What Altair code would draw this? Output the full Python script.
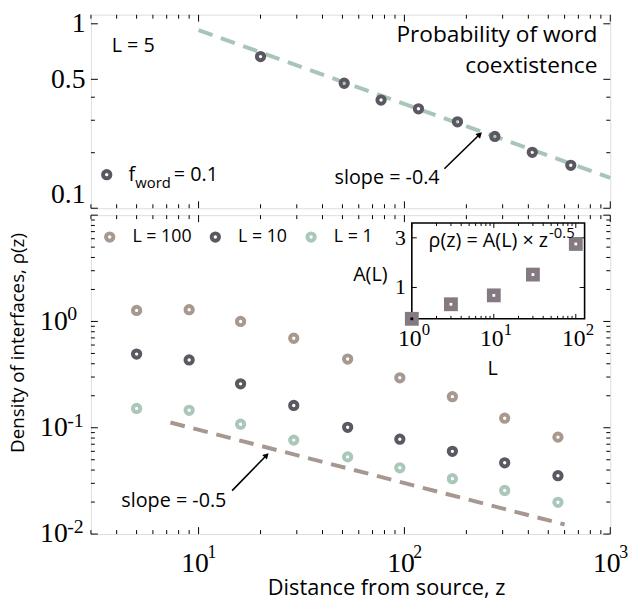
import math
import altair as alt
import pandas as pd

# ---------------- data ----------------
# top panel: probability of word coexistence (L = 5, f_word = 0.1)
top_z = [20, 51, 77, 117, 181, 275, 418, 643]
top_p = [0.664, 0.476, 0.386, 0.346, 0.294, 0.245, 0.201, 0.171]
top_fit_z = [10, 1000]
top_fit_p = [0.925, 0.146]

# bottom panel: density of interfaces
dist = [5, 9, 16, 29, 53, 95, 171, 307, 557]
rho_L100 = [1.27, 1.29, 1.0, 0.695, 0.443, 0.295, 0.196, 0.123, 0.0816]
rho_L10 = [0.493, 0.434, 0.259, 0.162, 0.101, 0.078, 0.060, 0.0468, 0.0354]
rho_L1 = [0.152, 0.146, 0.108, 0.0765, 0.0532, 0.042, 0.0332, 0.0257, 0.0199]
series_names = ["L = 100", "L = 10", "L = 1"]
bottom_fit_z = [7.3, 600]
bottom_fit_rho = [0.112, 0.0123]

# inset: A(L)
inset_L = [1, 3, 10, 30, 100]
inset_A = [0.5, 0.69, 0.84, 1.33, 2.62]

# axes / ticks
x_domain = [3, 1000]
top_y_domain = [0.1, 1.12]
bot_y_domain = [0.01, 10]
inset_x_domain = [1, 128]
inset_y_domain = [0.5, 4.16]

top_y_labels = [0.1, 0.5, 1]
top_y_minor = [0.2, 0.3, 0.4]
x_major = [10, 100, 1000]
x_major_sup = ["1", "2", "3"]
x_minor = [3, 4, 5, 6, 7, 8, 9, 20, 30, 40, 50, 60, 70, 80, 90,
           200, 300, 400, 500, 600, 700, 800, 900]
bot_y_major = [0.01, 0.1, 1, 10]
bot_y_labels = [0.01, 0.1, 1]
bot_y_sup = ["-2", "-1", "0"]
bot_y_minor = [0.02, 0.03, 0.04, 0.05, 0.06, 0.07, 0.08, 0.09,
               0.2, 0.3, 0.4, 0.5, 0.6, 0.7, 0.8, 0.9,
               2, 3, 4, 5, 6, 7, 8, 9]
inset_x_major = [1, 10, 100]
inset_x_sup = ["0", "1", "2"]
inset_x_minor = [2, 3, 4, 5, 6, 7, 8, 9, 20, 30, 40, 50, 60, 70, 80, 90]
inset_y_major = [1, 3]

# ---------------- style ----------------
SERIF = "Liberation Serif"
SANS = "Open Sans"
DARK = "#5b5862"
TAUPE = "#a7998f"
GREEN = "#a9c8b9"
GREEN_LINE = "#a8c6b7"
TAUPE_LINE = "#a69890"
SQUARE = "#857a82"

W, HT, HB = 526, 196, 323
MAJ, MIN = 7, 4


def one():
    return pd.DataFrame({"t": [""]})


def label(text, x, y, size=20, align="left", baseline="middle", font=SANS):
    return alt.Chart(pd.DataFrame({"t": [text]})).mark_text(
        align=align, baseline=baseline, font=font, fontSize=size, color="black"
    ).encode(x=alt.value(x), y=alt.value(y), text="t:N")


def arrow(x1, y1, x2, y2):
    L = math.hypot(x2 - x1, y2 - y1)
    ux, uy = (x2 - x1) / L, (y2 - y1) / L
    cx, cy = x2 - 3 * ux, y2 - 3 * uy
    ang = math.degrees(math.atan2(x2 - x1, -(y2 - y1)))
    line = alt.Chart(one()).mark_rule(color="black", strokeWidth=1.6).encode(
        x=alt.value(x1), y=alt.value(y1), x2=alt.value(cx), y2=alt.value(cy))
    head = alt.Chart(one()).mark_point(
        shape="triangle-up", filled=True, size=45, color="black", opacity=1, angle=ang
    ).encode(x=alt.value(cx), y=alt.value(cy))
    return [line, head]


def yticks(vals, field, scale, axis, length, width, x0=0):
    df = pd.DataFrame({field: vals})
    left = alt.Chart(df).mark_rule(color="black", strokeWidth=1).encode(
        y=alt.Y(f"{field}:Q", scale=scale, axis=axis),
        x=alt.value(x0), x2=alt.value(x0 + length))
    right = alt.Chart(df).mark_rule(color="black", strokeWidth=1).encode(
        y=alt.Y(f"{field}:Q", scale=scale, axis=axis),
        x=alt.value(x0 + width), x2=alt.value(x0 + width - length))
    return [left, right]


def xticks(vals, field, scale, axis, length, height, y0=0):
    df = pd.DataFrame({field: vals})
    bottom = alt.Chart(df).mark_rule(color="black", strokeWidth=1).encode(
        x=alt.X(f"{field}:Q", scale=scale, axis=axis),
        y=alt.value(y0 + height), y2=alt.value(y0 + height - length))
    top = alt.Chart(df).mark_rule(color="black", strokeWidth=1).encode(
        x=alt.X(f"{field}:Q", scale=scale, axis=axis),
        y=alt.value(y0), y2=alt.value(y0 + length))
    return [bottom, top]


# ---------------- top panel ----------------
xs_top = alt.Scale(type="log", domain=x_domain, nice=False)
ys_top = alt.Scale(type="log", domain=top_y_domain, nice=False)
top_y_axis = alt.Axis(values=top_y_labels, format="~g", labelFont=SERIF, labelFontSize=28,
                      labelColor="black", labelPadding=6, ticks=False, tickSize=0,
                      domain=False, grid=False, labelFlush=True, title=None)

top_fit = alt.Chart(pd.DataFrame({"z": top_fit_z, "p": top_fit_p})).mark_line(
    color=GREEN_LINE, strokeWidth=4, strokeDash=[15, 9]
).encode(x=alt.X("z:Q", scale=xs_top, axis=None), y=alt.Y("p:Q", scale=ys_top, axis=top_y_axis))

top_pts = alt.Chart(pd.DataFrame({"z": top_z, "p": top_p})).mark_point(
    filled=False, strokeWidth=4, size=55, color=DARK, opacity=1
).encode(x=alt.X("z:Q", scale=xs_top, axis=None), y=alt.Y("p:Q", scale=ys_top, axis=top_y_axis))

top_layers = [top_fit, top_pts]
top_layers += yticks(top_y_labels, "p", ys_top, top_y_axis, MAJ, W)
top_layers += yticks(top_y_minor, "p", ys_top, top_y_axis, MIN, W)
top_layers += xticks(x_major, "z", xs_top, None, MAJ, HT)
top_layers += xticks(x_minor, "z", xs_top, None, MIN, HT)
top_layers += [
    label("L = 5", 21, 32),
    label("Probability of word", 513, 21, size=23, align="right"),
    label("coextistence", 513, 52, size=23, align="right"),
    label("slope = -0.4", 300, 165, align="center"),
    alt.Chart(one()).mark_point(filled=False, strokeWidth=4, size=55, color=DARK, opacity=1)
    .encode(x=alt.value(16), y=alt.value(162)),
    label("f", 38, 168, baseline="alphabetic"),
    label("word", 45, 175, size=15, baseline="alphabetic"),
    label("= 0.1", 84, 168, baseline="alphabetic"),
]
top_layers += arrow(358, 156, 396, 119)
top = alt.layer(*top_layers).properties(width=W, height=HT)

# ---------------- bottom panel ----------------
xs_bot = alt.Scale(type="log", domain=x_domain, nice=False)
ys_bot = alt.Scale(type="log", domain=bot_y_domain, nice=False)
bot_x_axis = alt.Axis(values=x_major, labelExpr="'10'", labelFont=SERIF, labelFontSize=28,
                      labelColor="black", labelPadding=30, labelBaseline="middle", labelOffset=-4,
                      labelAlign="center", labelFlush=False, ticks=False, tickSize=0,
                      domain=False, grid=False,
                      title="Distance from source, z", titleFont=SANS, titleFontSize=22,
                      titleFontWeight="normal", titleColor="black", titleX=299, titleY=61,
                      titleAlign="center", titleBaseline="alphabetic", titleAnchor="middle")
bot_y_axis = alt.Axis(values=bot_y_labels, labelExpr="'10'", labelFont=SERIF, labelFontSize=28,
                      labelColor="black", labelPadding=24, labelBaseline="middle",
                      labelFlush=False, ticks=False, tickSize=0, domain=False, grid=False,
                      title="Density of interfaces, ρ(z)", titleFont=SANS, titleFontSize=19,
                      titleFontWeight="normal", titleColor="black", titleX=-74, titleY=129,
                      titleAngle=-90, titleAlign="center", titleBaseline="middle")

bot_df = pd.DataFrame({
    "z": dist * 3,
    "rho": rho_L100 + rho_L10 + rho_L1,
    "series": [n for n in series_names for _ in dist],
})
bot_fit = alt.Chart(pd.DataFrame({"z": bottom_fit_z, "rho": bottom_fit_rho})).mark_line(
    color=TAUPE_LINE, strokeWidth=4, strokeDash=[15, 9]
).encode(x=alt.X("z:Q", scale=xs_bot, axis=bot_x_axis), y=alt.Y("rho:Q", scale=ys_bot, axis=bot_y_axis))

bot_pts = alt.Chart(bot_df).mark_point(filled=False, strokeWidth=4, size=55, opacity=1).encode(
    x=alt.X("z:Q", scale=xs_bot, axis=bot_x_axis),
    y=alt.Y("rho:Q", scale=ys_bot, axis=bot_y_axis),
    color=alt.Color("series:N",
                    scale=alt.Scale(domain=series_names, range=[TAUPE, DARK, GREEN]),
                    legend=alt.Legend(orient="none", legendX=10, legendY=13, direction="horizontal",
                                      title=None, symbolType="circle", symbolSize=55,
                                      symbolStrokeWidth=4, symbolFillColor="white",
                                      labelFont=SANS, labelFontSize=18, labelColor="black",
                                      labelOffset=14, columnPadding=12, padding=0,
                                      gridAlign="each")),
)

x_sup = alt.Chart(pd.DataFrame({"z": x_major, "s": x_major_sup})).mark_text(
    align="left", baseline="middle", font=SERIF, fontSize=18, dx=9, color="black"
).encode(x=alt.X("z:Q", scale=xs_bot, axis=bot_x_axis), y=alt.value(HB + 19), text="s:N")
y_sup = alt.Chart(pd.DataFrame({"rho": bot_y_labels, "s": bot_y_sup})).mark_text(
    align="left", baseline="middle", font=SERIF, fontSize=20, dy=-7, color="black"
).encode(y=alt.Y("rho:Q", scale=ys_bot, axis=bot_y_axis), x=alt.value(-24), text="s:N")

main_layers = [bot_fit, bot_pts, x_sup, y_sup]
main_layers += yticks(bot_y_major, "rho", ys_bot, bot_y_axis, MAJ, W)
main_layers += yticks(bot_y_minor, "rho", ys_bot, bot_y_axis, MIN, W)
main_layers += xticks(x_major, "z", xs_bot, bot_x_axis, MAJ, HB)
main_layers += xticks(x_minor, "z", xs_bot, bot_x_axis, MIN, HB)
main_layers += [label("slope = -0.5", 84, 290, align="center")]
main_layers += arrow(143, 279, 180, 241)
main = alt.layer(*main_layers)

# ---------------- inset ----------------
ixs = alt.Scale(type="log", domain=inset_x_domain, range=[325, 500], nice=False)
iys = alt.Scale(type="log", domain=inset_y_domain, range=[105, 8], nice=False)

box_df = pd.DataFrame({"L": [inset_x_domain[0]], "L2": [inset_x_domain[1]],
                       "A": [inset_y_domain[0]], "A2": [inset_y_domain[1]]})
box_fill = alt.Chart(box_df).mark_rect(fill="white").encode(
    x=alt.X("L:Q", scale=ixs, axis=None), x2="L2:Q",
    y=alt.Y("A:Q", scale=iys, axis=None), y2="A2:Q")
box_line = alt.Chart(box_df).mark_rect(fillOpacity=0, stroke="black", strokeWidth=1.6).encode(
    x=alt.X("L:Q", scale=ixs, axis=None), x2="L2:Q",
    y=alt.Y("A:Q", scale=iys, axis=None), y2="A2:Q")

inset_df = pd.DataFrame({"L": inset_L, "A": inset_A})
squares = alt.Chart(inset_df).mark_square(size=196, color=SQUARE, opacity=1).encode(
    x=alt.X("L:Q", scale=ixs, axis=None), y=alt.Y("A:Q", scale=iys, axis=None))
dots = alt.Chart(inset_df).mark_square(size=8, opacity=1).encode(
    x=alt.X("L:Q", scale=ixs, axis=None), y=alt.Y("A:Q", scale=iys, axis=None),
    color=alt.condition("datum.L == 1", alt.value("black"), alt.value("white")))

ix_lab = alt.Chart(pd.DataFrame({"L": inset_x_major, "s": inset_x_sup})).mark_text(
    align="center", baseline="middle", font=SERIF, fontSize=24, dx=-2, color="black"
).encode(x=alt.X("L:Q", scale=ixs, axis=None), y=alt.value(126), text=alt.value("10"))
ix_sup = alt.Chart(pd.DataFrame({"L": inset_x_major, "s": inset_x_sup})).mark_text(
    align="left", baseline="middle", font=SERIF, fontSize=17, dx=10, color="black"
).encode(x=alt.X("L:Q", scale=ixs, axis=None), y=alt.value(116), text="s:N")
iy_lab = alt.Chart(pd.DataFrame({"A": inset_y_major, "s": ["1", "3"]})).mark_text(
    align="right", baseline="middle", font=SERIF, fontSize=22, color="black"
).encode(y=alt.Y("A:Q", scale=iys, axis=None), x=alt.value(319), text="s:N")

inset_layers = [box_fill, box_line]
inset_layers += xticks(inset_x_major, "L", ixs, None, 5, 97, y0=8)
inset_layers += xticks(inset_x_minor, "L", ixs, None, 3, 97, y0=8)
inset_layers += yticks(inset_y_major, "A", iys, None, 5, 175, x0=325)
inset_layers += [squares, dots, ix_lab, ix_sup, iy_lab,
                 label("L", 407, 156, size=20, align="center"),
                 label("A(L)", 283, 61, size=20, align="center"),
                 label("ρ(z) = A(L) × z", 463, 26, size=20, align="right"),
                 label("-0.5", 464, 18, size=15)]
inset = alt.layer(*inset_layers)

bottom = alt.layer(main, inset).resolve_scale(x="independent", y="independent").properties(
    width=W, height=HB)

chart = alt.vconcat(top, bottom, spacing=7, bounds="flush").resolve_legend(
    color="independent"
).properties(
    padding={"left": 0, "top": -3, "right": 2, "bottom": -2}
).configure_view(stroke="black", strokeWidth=2).configure(background="white")

chart.save("out.html", embed_options={"renderer": "svg", "actions": False})
